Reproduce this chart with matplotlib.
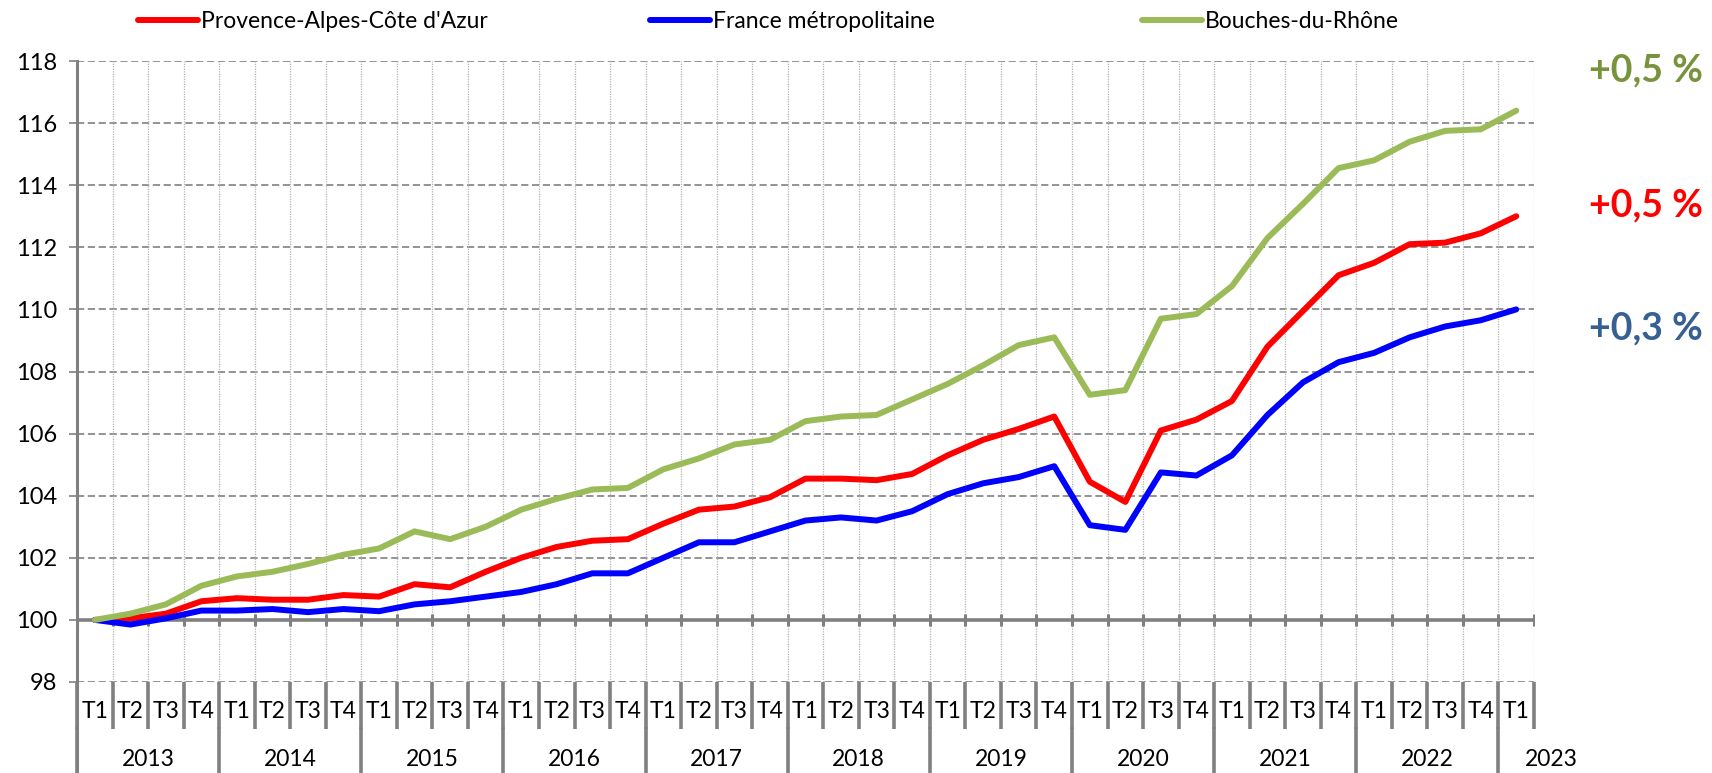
import numpy as np
import matplotlib.pyplot as plt
from matplotlib.lines import Line2D

plt.rcParams['font.family'] = ['Lato', 'DejaVu Sans']

years = ["2013", "2014", "2015", "2016", "2017", "2018", "2019", "2020", "2021", "2022", "2023"]
quarters = ["T1", "T2", "T3", "T4"] * 10 + ["T1"]

paca = [100.0, 100.05, 100.2, 100.6, 100.7, 100.65, 100.65, 100.8, 100.75, 101.15,
        101.05, 101.55, 102.0, 102.35, 102.55, 102.6, 103.1, 103.55, 103.65, 103.95,
        104.55, 104.55, 104.5, 104.7, 105.3, 105.8, 106.15, 106.55, 104.45, 103.8,
        106.1, 106.45, 107.05, 108.8, 109.95, 111.1, 111.5, 112.1, 112.15, 112.45,
        113.0]
france = [100.0, 99.85, 100.05, 100.3, 100.3, 100.35, 100.25, 100.35, 100.28, 100.5,
          100.6, 100.75, 100.9, 101.15, 101.5, 101.5, 102.0, 102.5, 102.5, 102.85,
          103.2, 103.3, 103.2, 103.5, 104.05, 104.4, 104.6, 104.95, 103.05, 102.9,
          104.75, 104.65, 105.3, 106.6, 107.65, 108.3, 108.6, 109.1, 109.45, 109.65,
          110.0]
bdr = [100.0, 100.2, 100.5, 101.1, 101.4, 101.55, 101.8, 102.1, 102.3, 102.85,
       102.6, 103.0, 103.55, 103.9, 104.2, 104.25, 104.85, 105.2, 105.65, 105.8,
       106.4, 106.55, 106.6, 107.1, 107.6, 108.2, 108.85, 109.1, 107.25, 107.4,
       109.7, 109.85, 110.75, 112.3, 113.4, 114.55, 114.8, 115.4, 115.75, 115.8,
       116.4]

labels = ["Provence-Alpes-Côte d'Azur", "France métropolitaine", "Bouches-du-Rhône"]
colors = ["#ff0000", "#0000ff", "#9bbb59"]
changes = ["+0,5 %", "+0,5 %", "+0,3 %"]
change_colors = ["#77933c", "#ff0000", "#376092"]

W, H = 1712, 773
fig = plt.figure(figsize=(W / 100, H / 100), dpi=100)
ax_l, ax_r, ax_t, ax_b = 77, 1534, 61, 682
ax = fig.add_axes([ax_l / W, 1 - ax_b / H, (ax_r - ax_l) / W, (ax_b - ax_t) / H])

n = len(paca)
x = np.arange(n)
bounds = np.arange(n + 1) - 0.5
grey = "#808080"

ax.set_xlim(-0.5, n - 0.5)
ax.set_ylim(98, 118)

# grid
for yv in np.arange(98, 119, 2):
    ax.axhline(yv, color="#8a8a8a", lw=1.3, ls=(0, (4, 2)), zorder=1)
for b in bounds[1:]:
    ax.axvline(b, color="#b4b4b4", lw=0.9, ls=(0, (1, 1)), zorder=1)

# series
handles = []
for series, lab, col in zip([paca, france, bdr], labels, colors):
    h, = ax.plot(x, series, color=col, lw=4.3, label=lab, zorder=3, solid_capstyle="round")
    handles.append(h)

# 100 baseline with small ticks
ax.axhline(100, color=grey, lw=2.6, zorder=2)
ax.plot(bounds, [100] * len(bounds), ls="none", marker="|", ms=9, mew=2.2, color=grey, zorder=2)

for side in ["top", "right", "bottom"]:
    ax.spines[side].set_visible(False)
ax.spines["left"].set_color(grey)
ax.spines["left"].set_linewidth(2.2)

ax.set_yticks(np.arange(98, 119, 2))
ax.tick_params(axis="y", length=6, width=1.3, color="#8a8a8a", labelsize=17, pad=8)

# category axis: T separators
ax.set_xticks(bounds)
ax.set_xticklabels([])
ax.tick_params(axis="x", length=34, width=2.6, color=grey, direction="out")

trans = ax.get_xaxis_transform()
ah = ax_b - ax_t
t_row = -(729 - ax_b) / ah
bottom = -(H - ax_b) / ah
for i, q in enumerate(quarters):
    ax.text(i, -(712 - ax_b) / ah, q, transform=trans, ha="center", va="center", fontsize=16.5)

# year separators and labels
for k, yr in enumerate(years):
    start = 4 * k - 0.5
    ax.add_line(Line2D([start, start], [t_row, bottom], transform=trans, color=grey,
                       lw=2.6, clip_on=False))
    cx = start + 2 if yr != "2023" else start + 1.5
    ax.text(cx, -(759 - ax_b) / ah, yr, transform=trans, ha="center", va="center", fontsize=16.5)
ax.add_line(Line2D([-0.5, -0.5], [0, bottom], transform=trans, color=grey, lw=2.2, clip_on=False))

# legend: one entry per box, spaced as in the original
for h, xpix in zip(handles, [138, 650, 1142]):
    leg = fig.legend(handles=[h], loc="center left", bbox_to_anchor=(xpix / W, 1 - 22 / H),
                     frameon=False, fontsize=16.5, handlelength=2.6, handletextpad=0.15,
                     borderpad=0, borderaxespad=0)

# variation annotations
for txt, col, ypix in zip(changes, change_colors, [70, 205, 328]):
    fig.text(1646 / W, 1 - ypix / H, txt, color=col, fontsize=27, fontweight="bold",
             ha="center", va="center")

fig.savefig("out.png", dpi=100)
